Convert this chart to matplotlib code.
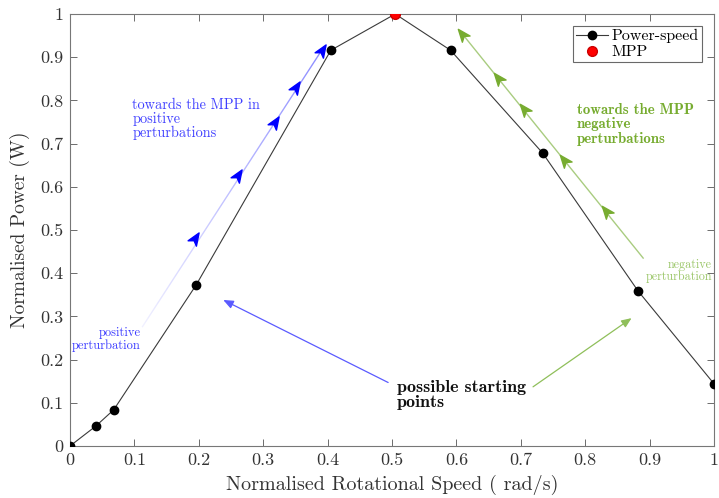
import numpy as np
import matplotlib
matplotlib.use("Agg")
import matplotlib.pyplot as plt
from matplotlib.path import Path
from matplotlib.markers import MarkerStyle
from matplotlib.transforms import Affine2D
from matplotlib.collections import LineCollection

# Normalised power-speed curve of the turbine
speed = [0.0, 0.04, 0.068, 0.196, 0.405, 0.505, 0.591, 0.734, 0.882, 1.0]
power = [0.0, 0.046, 0.084, 0.373, 0.916, 1.0, 0.916, 0.678, 0.359, 0.144]
mpp_speed = [0.505]
mpp_power = [1.0]

x_ticks = [round(0.1 * i, 1) for i in range(11)]
x_tick_labels = ["0", "0.1", "0.2", "0.3", "0.4", "0.5", "0.6", "0.7", "0.8", "0.9", "1"]
y_ticks = x_ticks
y_tick_labels = x_tick_labels

plt.rcParams["font.family"] = "serif"
plt.rcParams["font.serif"] = ["cmr10", "DejaVu Serif"]
plt.rcParams["mathtext.fontset"] = "cm"
plt.rcParams["axes.unicode_minus"] = False

BLUE = "#0000ff"
GREEN = "#77ac30"
AX_GREY = "#555555"

fig = plt.figure(figsize=(7.19, 4.98), dpi=100)
ax = fig.add_axes([70 / 719, 52 / 498, 644 / 719, 432 / 498])
ax.set_xlim(0, 1)
ax.set_ylim(0, 1)

ax.plot(speed, power, "-", color="#3a3a3a", lw=0.8, marker="o", ms=6,
        mfc="black", mec="black", label="Power-speed", zorder=3)
ax.plot(mpp_speed, mpp_power, "o", color="#ff0000", ms=7, mec="#cc0000",
        label="MPP", zorder=4)

ax.set_xticks(x_ticks)
ax.set_xticklabels(x_tick_labels)
ax.set_yticks(y_ticks)
ax.set_yticklabels(y_tick_labels)
ax.tick_params(direction="in", length=5, width=0.6, colors=AX_GREY,
               labelcolor="#333333", labelsize=13, top=True, right=True, pad=5)
for sp in ax.spines.values():
    sp.set_color("#777777")
    sp.set_linewidth(0.8)

ax.set_xlabel("Normalised Rotational Speed ( rad/s)", fontsize=14.5, color="#333333", labelpad=5)
ax.set_ylabel("Normalised Power (W)", fontsize=14, color="#333333", labelpad=7)

leg = ax.legend(loc="upper right", fontsize=11.5, frameon=True, fancybox=False,
                edgecolor="#444444", borderpad=0.2, handlelength=2.0,
                handletextpad=0.25, labelspacing=0.1, borderaxespad=0.75)
leg.get_frame().set_linewidth(0.8)

fig.canvas.draw()

# concave arrowhead pointing along +x
head_path = Path([(1.0, 0.0), (-0.9, 0.75), (-0.4, 0.0), (-0.9, -0.75), (1.0, 0.0)],
                 [Path.MOVETO, Path.LINETO, Path.LINETO, Path.LINETO, Path.CLOSEPOLY])


def display_angle(p0, p1):
    a = ax.transData.transform(p0)
    b = ax.transData.transform(p1)
    return np.degrees(np.arctan2(b[1] - a[1], b[0] - a[0]))


def heads_along(path_pts, tips, color, size):
    ang = display_angle(path_pts[0], path_pts[-1])
    mk = MarkerStyle(head_path, transform=Affine2D().rotate_deg(ang))
    xs = [t[0] for t in tips]
    ys = [t[1] for t in tips]
    ax.plot(xs, ys, linestyle="none", marker=mk, ms=size, color=color,
            mec=color, zorder=5)


# positive-perturbation path with fading trail
p_start, p_end = (0.112, 0.275), (0.393, 0.921)
n = 60
tt = np.linspace(0, 1, n + 1)
px = p_start[0] + (p_end[0] - p_start[0]) * tt
py = p_start[1] + (p_end[1] - p_start[1]) * tt
segs = [[(px[i], py[i]), (px[i + 1], py[i + 1])] for i in range(n)]
cols = [(0.0, 0.0, 1.0, 0.06 + 0.4 * (i / n)) for i in range(n)]
ax.add_collection(LineCollection(segs, colors=cols, linewidths=1.0, zorder=2))
heads_along([p_start, p_end],
            [(0.194, 0.481), (0.261, 0.628), (0.318, 0.750), (0.351, 0.832), (0.391, 0.917)],
            BLUE, 9.5)

# negative-perturbation path
n_start, n_end = (0.890, 0.435), (0.607, 0.958)
ax.plot([n_start[0], n_end[0]], [n_start[1], n_end[1]], color="#a9cc80", lw=1.0, zorder=2)
heads_along([n_start, n_end],
            [(0.609, 0.953), (0.664, 0.851), (0.705, 0.779), (0.767, 0.661), (0.832, 0.543)],
            GREEN, 9.5)

ax.text(0.110, 0.247, "positive\nperturbation", color="#3b3bff", fontsize=9,
        ha="right", va="center", linespacing=1.0, multialignment="right")
ax.text(0.997, 0.405, "negative\nperturbation", color="#9cc76a", fontsize=8.7,
        ha="right", va="center", linespacing=1.0, multialignment="right")

ax.text(0.097, 0.757, "towards the MPP in\npositive\nperturbations", color="#4040ff",
        fontsize=10.3, ha="left", va="center", linespacing=1.0)
ax.text(0.787, 0.745, "towards the MPP\nnegative\nperturbations", color=GREEN,
        fontsize=10.7, ha="left", va="center", linespacing=1.05,
        family=["cmb10", "DejaVu Serif"])

ax.text(0.508, 0.117, "possible starting\npoints", color="#111111", fontsize=13,
        ha="left", va="center", linespacing=1.0, family=["cmb10", "DejaVu Serif"])

ax.annotate("", xy=(0.238, 0.338), xytext=(0.494, 0.147),
            arrowprops=dict(arrowstyle="-|>,head_length=0.6,head_width=0.25",
                            color="#5a5aff", lw=0.9, shrinkA=0, shrinkB=0))
ax.annotate("", xy=(0.872, 0.296), xytext=(0.719, 0.137),
            arrowprops=dict(arrowstyle="-|>,head_length=0.6,head_width=0.25",
                            color="#8fbf5a", lw=0.9, shrinkA=0, shrinkB=0))

fig.savefig("out.png", dpi=100)
